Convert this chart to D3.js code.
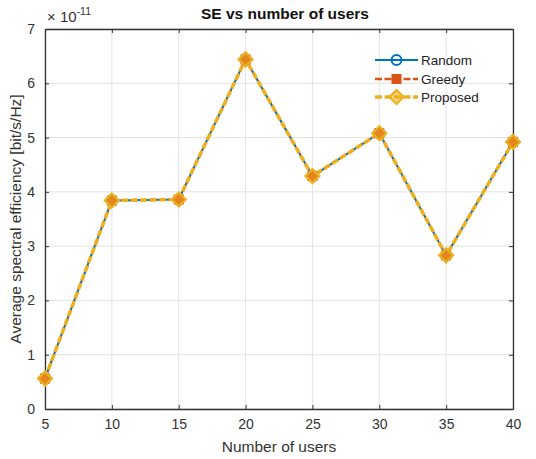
<!DOCTYPE html>
<html>
<head>
<meta charset="utf-8">
<script src="https://d3js.org/d3.v7.min.js"></script>
<style>
body { margin: 0; background: #fff; }
text { font-family: "Liberation Sans", Arial, sans-serif; }
</style>
</head>
<body>
<script>
var users = [5, 10, 15, 20, 25, 30, 35, 40];
// values in units of 1e-11 bit/s/Hz, all three series overlap
var randomSE = [0.56, 3.84, 3.86, 6.44, 4.29, 5.08, 2.83, 4.92];
var greedySE = [0.56, 3.84, 3.86, 6.44, 4.29, 5.08, 2.83, 4.92];
var proposedSE = [0.56, 3.84, 3.86, 6.44, 4.29, 5.08, 2.83, 4.92];
var xTicks = [5, 10, 15, 20, 25, 30, 35, 40];
var yTicks = [0, 1, 2, 3, 4, 5, 6, 7];

var W = 536, H = 459;
var m = {left: 45, right: 23, top: 29, bottom: 50};

var svg = d3.select("body").append("svg")
    .attr("width", W)
    .attr("height", H);

var x = d3.scaleLinear().domain([5, 40]).range([m.left, W - m.right]);
var y = d3.scaleLinear().domain([0, 7]).range([H - m.bottom, m.top]);

// grid
svg.append("g").selectAll("line").data(xTicks).enter().append("line")
    .attr("x1", d => x(d)).attr("x2", d => x(d))
    .attr("y1", y(0)).attr("y2", y(7))
    .attr("stroke", "#e3e3e3").attr("stroke-width", 1);
svg.append("g").selectAll("line").data(yTicks).enter().append("line")
    .attr("x1", x(5)).attr("x2", x(40))
    .attr("y1", d => y(d)).attr("y2", d => y(d))
    .attr("stroke", "#e3e3e3").attr("stroke-width", 1);

// axes
var fmt = d3.format("d");
svg.append("g").attr("transform", "translate(0," + y(0) + ")")
    .call(d3.axisBottom(x).tickValues(xTicks).tickFormat(fmt).tickSizeInner(-4).tickSizeOuter(0).tickPadding(10));
svg.append("g").attr("transform", "translate(" + x(5) + ",0)")
    .call(d3.axisLeft(y).tickValues(yTicks).tickFormat(fmt).tickSizeInner(-4).tickSizeOuter(0).tickPadding(10));
svg.append("g").attr("transform", "translate(0," + y(7) + ")")
    .call(d3.axisTop(x).tickValues(xTicks).tickSizeInner(-4).tickSizeOuter(0).tickFormat(""));
svg.append("g").attr("transform", "translate(" + x(40) + ",0)")
    .call(d3.axisRight(y).tickValues(yTicks).tickSizeInner(-4).tickSizeOuter(0).tickFormat(""));
svg.selectAll(".domain").attr("stroke", "#333").attr("stroke-width", 1.3);
svg.selectAll(".tick line").attr("stroke", "#333");
svg.selectAll(".tick text").attr("font-size", 14).attr("fill", "#333")
    .style("font-family", "'Liberation Sans', Arial, sans-serif");

// exponent
var ex = svg.append("text").attr("x", x(5) + 2).attr("y", 22)
    .attr("fill", "#333");
ex.append("tspan").style("font-size", "15px").text("\u00d7 10");
ex.append("tspan").attr("dy", -7).style("font-size", "10.5px").text("-11");

// title and labels
svg.append("text").attr("x", 285).attr("y", 19)
    .attr("text-anchor", "middle").attr("font-size", 15.5).attr("font-weight", "bold")
    .attr("fill", "#111").text("SE vs number of users");
svg.append("text").attr("x", x(22.5)).attr("y", 452)
    .attr("text-anchor", "middle").attr("font-size", 15.5).attr("fill", "#333")
    .text("Number of users");
svg.append("text").attr("transform", "translate(21," + y(3.5) + ") rotate(-90)")
    .attr("text-anchor", "middle").attr("font-size", 15.5).attr("fill", "#333")
    .text("Average spectral efficiency [bit/s/Hz]");

var line = d3.line().x((d, i) => x(users[i])).y(d => y(d));
var series = [
    {name: "Random", vals: randomSE, color: "#0072BD", dash: null, width: 2, marker: "circle"},
    {name: "Greedy", vals: greedySE, color: "#D95319", dash: "7,2.5", width: 2.6, marker: "square"},
    {name: "Proposed", vals: proposedSE, color: "#EDB120", dash: "7,2.5", width: 3.4, marker: "diamond"}
];

function drawMarker(g, type, color, cx, cy) {
    if (type === "circle") {
        g.append("circle").attr("cx", cx).attr("cy", cy).attr("r", 5)
            .attr("fill", "none").attr("stroke", color).attr("stroke-width", 2);
    } else if (type === "square") {
        g.append("rect").attr("x", cx - 4.5).attr("y", cy - 4.5).attr("width", 9).attr("height", 9)
            .attr("fill", color).attr("stroke", color).attr("stroke-width", 1);
    } else {
        g.append("path").attr("d", "M" + cx + "," + (cy - 7) + "L" + (cx + 7) + "," + cy +
            "L" + cx + "," + (cy + 7) + "L" + (cx - 7) + "," + cy + "Z")
            .attr("fill", "rgba(237,177,32,0.55)").attr("stroke", color).attr("stroke-width", 2.2);
    }
}

series.forEach(function(s) {
    svg.append("path").datum(s.vals).attr("d", line)
        .attr("fill", "none").attr("stroke", s.color).attr("stroke-width", s.width)
        .attr("stroke-dasharray", s.dash);
});
series.forEach(function(s) {
    var g = svg.append("g");
    s.vals.forEach(function(v, i) { drawMarker(g, s.marker, s.color, x(users[i]), y(v)); });
});

// legend
var leg = svg.append("g");
var legY = [60, 79, 97];
series.forEach(function(s, i) {
    leg.append("line").attr("x1", 375).attr("x2", 418).attr("y1", legY[i]).attr("y2", legY[i])
        .attr("stroke", s.color).attr("stroke-width", s.width).attr("stroke-dasharray", s.dash);
    drawMarker(leg, s.marker, s.color, 396.5, legY[i]);
    leg.append("text").attr("x", 421).attr("y", legY[i] + 5)
        .attr("font-size", 13.5).attr("fill", "#222").text(s.name);
});
</script>
</body>
</html>
